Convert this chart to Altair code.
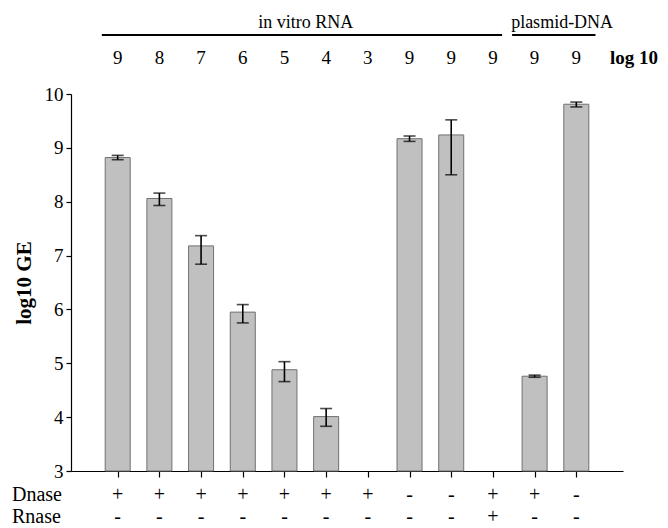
import altair as alt
import pandas as pd

# --- data ---
positions = list(range(1, 13))
log_amount = ["9", "8", "7", "6", "5", "4", "3", "9", "9", "9", "9", "9"]
mean_ge = [8.82, 8.06, 7.18, 5.95, 4.88, 4.01, None, 9.17, 9.24, None, 4.76, 9.81]
err_low = [8.78, 7.93, 6.84, 5.75, 4.66, 3.83, None, 9.12, 8.50, None, 4.74, 9.76]
err_high = [8.86, 8.16, 7.37, 6.09, 5.03, 4.16, None, 9.22, 9.52, None, 4.78, 9.85]
dnase = ["+", "+", "+", "+", "+", "+", "+", "-", "-", "+", "+", "-"]
rnase = ["-", "-", "-", "-", "-", "-", "-", "-", "-", "+", "-", "-"]

groups = ["in vitro RNA", "plasmid-DNA"]
group_start = [0.62, 10.46]
group_end = [10.22, 12.46]
group_mid = [5.51, 11.66]

FONT = "Liberation Serif"

df = pd.DataFrame({
    "pos": positions, "log": log_amount, "ge": mean_ge,
    "lo": err_low, "hi": err_high, "dnase": dnase, "rnase": rnase,
})
gdf = pd.DataFrame({"group": groups, "x1": group_start, "x2": group_end, "mid": group_mid})

xscale = alt.Scale(domain=[0, 13], nice=False, zero=False)
yscale = alt.Scale(domain=[3, 10], nice=False, zero=False)

base = alt.Chart(df)

bars = base.transform_filter("datum.ge != null").mark_bar(
    fill="#c0c0c0", stroke="#707070", strokeWidth=1, width=25
).encode(
    x=alt.X("pos:Q", scale=xscale,
            axis=alt.Axis(values=positions, labels=False, title=None, tickSize=6,
                          tickColor="black", domainColor="black", grid=False,
                          tickWidth=1.2, domainWidth=1.2)),
    y=alt.Y("ge:Q", scale=yscale,
            axis=alt.Axis(values=[3, 4, 5, 6, 7, 8, 9, 10], format="d", title="log10 GE",
                          titleFont=FONT, titleFontSize=21, titleFontWeight="bold",
                          titleColor="black", titlePadding=10,
                          labelFont=FONT, labelFontSize=19, labelColor="black",
                          tickSize=5, labelPadding=3, tickColor="black",
                          domainColor="black", grid=False, tickWidth=1.2, domainWidth=1.2)),
    y2=alt.Y2(datum=3),
)

err_rule = base.transform_filter("datum.lo != null").mark_rule(
    color="black", strokeWidth=1.6
).encode(x="pos:Q", y="lo:Q", y2="hi:Q")

cap_lo = base.transform_filter("datum.lo != null").mark_tick(
    color="black", thickness=1.6, size=12, orient="horizontal"
).encode(x="pos:Q", y="lo:Q")

cap_hi = base.transform_filter("datum.hi != null").mark_tick(
    color="black", thickness=1.6, size=12, orient="horizontal"
).encode(x="pos:Q", y="hi:Q")

log_text = base.mark_text(font=FONT, fontSize=19, color="black", baseline="middle").encode(
    x="pos:Q", y=alt.value(-36), text="log:N")

dn_text = base.mark_text(font=FONT, fontSize=20, color="black", baseline="middle").encode(
    x="pos:Q", y=alt.value(401), text="dnase:N")

rn_text = base.mark_text(font=FONT, fontSize=20, color="black", baseline="middle").encode(
    x="pos:Q", y=alt.value(423), text="rnase:N")

glines = alt.Chart(gdf).mark_rule(color="black", strokeWidth=2).encode(
    x="x1:Q", x2="x2:Q", y=alt.value(-59))

gtext = alt.Chart(gdf).mark_text(font=FONT, fontSize=18, color="black", baseline="middle").encode(
    x="mid:Q", y=alt.value(-71), text="group:N")

dn_label = alt.Chart(pd.DataFrame({"t": ["Dnase"]})).mark_text(
    font=FONT, fontSize=20, color="black", align="left", baseline="middle"
).encode(x=alt.value(-59), y=alt.value(401), text="t:N")
rn_label = alt.Chart(pd.DataFrame({"t": ["Rnase"]})).mark_text(
    font=FONT, fontSize=20, color="black", align="left", baseline="middle"
).encode(x=alt.value(-59), y=alt.value(423), text="t:N")
log_label = alt.Chart(pd.DataFrame({"t": ["log 10"]})).mark_text(
    font=FONT, fontSize=19, fontWeight="bold", color="black", align="left", baseline="middle"
).encode(x=alt.value(539), y=alt.value(-36), text="t:N")

chart = alt.layer(
    bars, err_rule, cap_lo, cap_hi, log_text, dn_text, rn_text,
    glines, gtext, dn_label, rn_label, log_label
).properties(
    width=552, height=377,
    autosize=alt.AutoSizeParams(type="none"),
    padding={"left": 71, "top": 94, "right": 45, "bottom": 57},
).configure(
    background="white", font=FONT
).configure_view(stroke=None)

chart.save("out.html", embed_options={"renderer": "svg", "actions": False})
